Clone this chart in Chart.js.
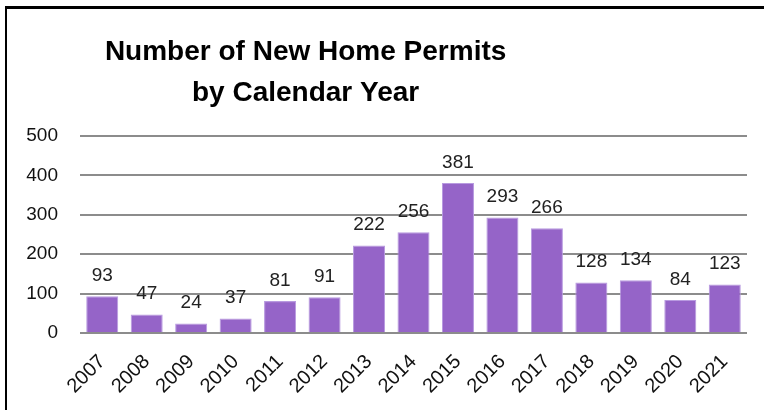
<!DOCTYPE html>
<html lang="en">
<head>
    <meta charset="UTF-8">
    <title>New Home Permits</title>
    <script src="https://cdn.jsdelivr.net/npm/chart.js"></script>
    <style>
        body {
            margin: 0;
            padding: 0;
            background: #fff;
        }
        .wrap {
            position: relative;
            width: 764px;
            height: 410px;
            overflow: hidden;
        }
        .frame {
            position: absolute;
            left: 5px;
            top: 6px;
            right: -5px;
            bottom: -5px;
            border-left: 2px solid #000;
            border-top: 3px solid #000;
        }
        canvas {
            position: absolute;
            left: 0;
            top: 0;
        }
    </style>
</head>
<body>
    <div class="wrap">
        <canvas id="permitChart" width="764" height="410"></canvas>
        <div class="frame"></div>
    </div>

    <script>
        const years = ['2007', '2008', '2009', '2010', '2011', '2012', '2013', '2014',
                       '2015', '2016', '2017', '2018', '2019', '2020', '2021'];
        const permits = [93, 47, 24, 37, 81, 91, 222, 256, 381, 293, 266, 128, 134, 84, 123];
        const titleLines = ['Number of New Home Permits', 'by Calendar Year'];

        const FONT = "'Liberation Sans', Arial, sans-serif";

        // custom title, sits left of centre like the original
        const titlePlugin = {
            id: 'sideTitle',
            afterDraw(chart) {
                const ctx = chart.ctx;
                ctx.save();
                ctx.fillStyle = '#000';
                ctx.font = 'bold 28px ' + FONT;
                ctx.textAlign = 'center';
                ctx.textBaseline = 'middle';
                const cx = chart.width * 0.4;
                ctx.fillText(titleLines[0], cx, 52);
                ctx.fillText(titleLines[1], cx, 93);
                ctx.restore();
            }
        };

        // value labels above each bar
        const valueLabels = {
            id: 'valueLabels',
            afterDatasetsDraw(chart) {
                const ctx = chart.ctx;
                const meta = chart.getDatasetMeta(0);
                ctx.save();
                ctx.fillStyle = '#222';
                ctx.font = '19px ' + FONT;
                ctx.textAlign = 'center';
                ctx.textBaseline = 'bottom';
                meta.data.forEach((bar, i) => {
                    ctx.fillText(permits[i], bar.x, bar.y - 11);
                });
                ctx.restore();
            }
        };

        const ctx = document.getElementById('permitChart').getContext('2d');
        new Chart(ctx, {
            type: 'bar',
            data: {
                labels: years,
                datasets: [{
                    data: permits,
                    backgroundColor: '#9564c8',
                    borderColor: '#b89ae0',
                    borderWidth: 1,
                    borderSkipped: 'bottom',
                    barPercentage: 0.72,
                    categoryPercentage: 1.0
                }]
            },
            options: {
                responsive: false,
                animation: false,
                layout: {
                    padding: { top: 136, right: 17, bottom: 0, left: 0 }
                },
                plugins: {
                    legend: { display: false },
                    tooltip: { enabled: false }
                },
                scales: {
                    x: {
                        grid: { display: false },
                        border: { display: false },
                        ticks: {
                            color: '#111',
                            font: { size: 20, family: FONT },
                            minRotation: 45,
                            maxRotation: 45,
                            padding: 9,
                            autoSkip: false
                        },
                        afterFit(scale) {
                            scale.height = 77;
                        }
                    },
                    y: {
                        min: 0,
                        max: 500,
                        border: { display: false },
                        grid: {
                            color: '#8c8c8c',
                            lineWidth: 2,
                            drawTicks: false
                        },
                        ticks: {
                            stepSize: 100,
                            color: '#111',
                            font: { size: 19, family: FONT },
                            padding: 22
                        },
                        afterFit(scale) {
                            scale.width = 80;
                        }
                    }
                }
            },
            plugins: [titlePlugin, valueLabels]
        });
    </script>
</body>
</html>
